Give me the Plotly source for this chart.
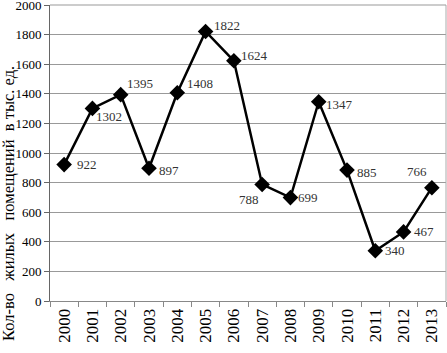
import plotly.graph_objects as go

years = ["2000", "2001", "2002", "2003", "2004", "2005", "2006",
         "2007", "2008", "2009", "2010", "2011", "2012", "2013"]
values = [922, 1302, 1395, 897, 1408, 1822, 1624, 788, 699, 1347, 885, 340, 467, 766]
y_ticks = [0, 200, 400, 600, 800, 1000, 1200, 1400, 1600, 1800, 2000]
y_title = "Кол-во   жилых   помещений  в тыс. ед."

# label offsets in pixels (right, down) from each point
label_dx = [23, 17, 19, 20, 23, 21, 21, -13, 18, 21, 20, 20, 20, -15]
label_dy = [0, 8, -11, 2, -9, -6, -5, 15, 0, 3, 2, 0, 0, -16]

FONT = "Liberation Serif, Times New Roman, serif"

fig = go.Figure()
fig.add_trace(go.Scatter(
    x=years, y=values, mode="lines+markers",
    line=dict(color="black", width=2.5),
    marker=dict(symbol="diamond", size=12, color="black"),
    cliponaxis=False, showlegend=False,
))

annotations = [dict(x=i, y=v, xref="x", yref="y", text=str(v), showarrow=False,
                    xshift=dx, yshift=-dy, xanchor="center", yanchor="middle",
                    font=dict(family=FONT, size=13, color="#333333"))
               for i, (v, dx, dy) in enumerate(zip(values, label_dx, label_dy))]
annotations.append(dict(text=y_title, xref="paper", yref="paper", x=-0.105, y=-0.142,
                        xanchor="center", yanchor="bottom", textangle=-90,
                        showarrow=False, font=dict(family=FONT, size=16.5, color="black")))

fig.update_layout(
    width=447, height=353,
    margin=dict(l=50, r=1, t=5, b=52),
    paper_bgcolor="white", plot_bgcolor="white",
    font=dict(family=FONT, size=13, color="black"),
    xaxis=dict(type="category", categoryorder="array", categoryarray=years,
               range=[-0.5, len(years) - 0.5],
               tickangle=-90, tickson="boundaries",
               ticks="outside", ticklen=5, tickcolor="#888888",
               showline=True, linecolor="#888888", linewidth=1,
               mirror=False, showgrid=False, tickfont=dict(size=17),
               automargin=False),
    yaxis=dict(range=[0, 2001], tickvals=y_ticks, ticks="outside", ticklen=5,
               tickcolor="#666666", showline=True, linecolor="#666666",
               showgrid=True, gridcolor="#999999", gridwidth=1, zeroline=False,
               tickfont=dict(size=13), automargin=False, ticklabeloverflow="allow"),
    shapes=[dict(type="line", xref="paper", yref="paper", x0=1, x1=1, y0=0, y1=1,
                 line=dict(color="#aaaaaa", width=1)),
            dict(type="line", xref="paper", yref="paper", x0=0, x1=1, y0=1, y1=1,
                 line=dict(color="#999999", width=1))],
    annotations=annotations,
)

fig.write_html("out.html", config={"displayModeBar": False},
               post_script="document.body.style.margin='0';")
